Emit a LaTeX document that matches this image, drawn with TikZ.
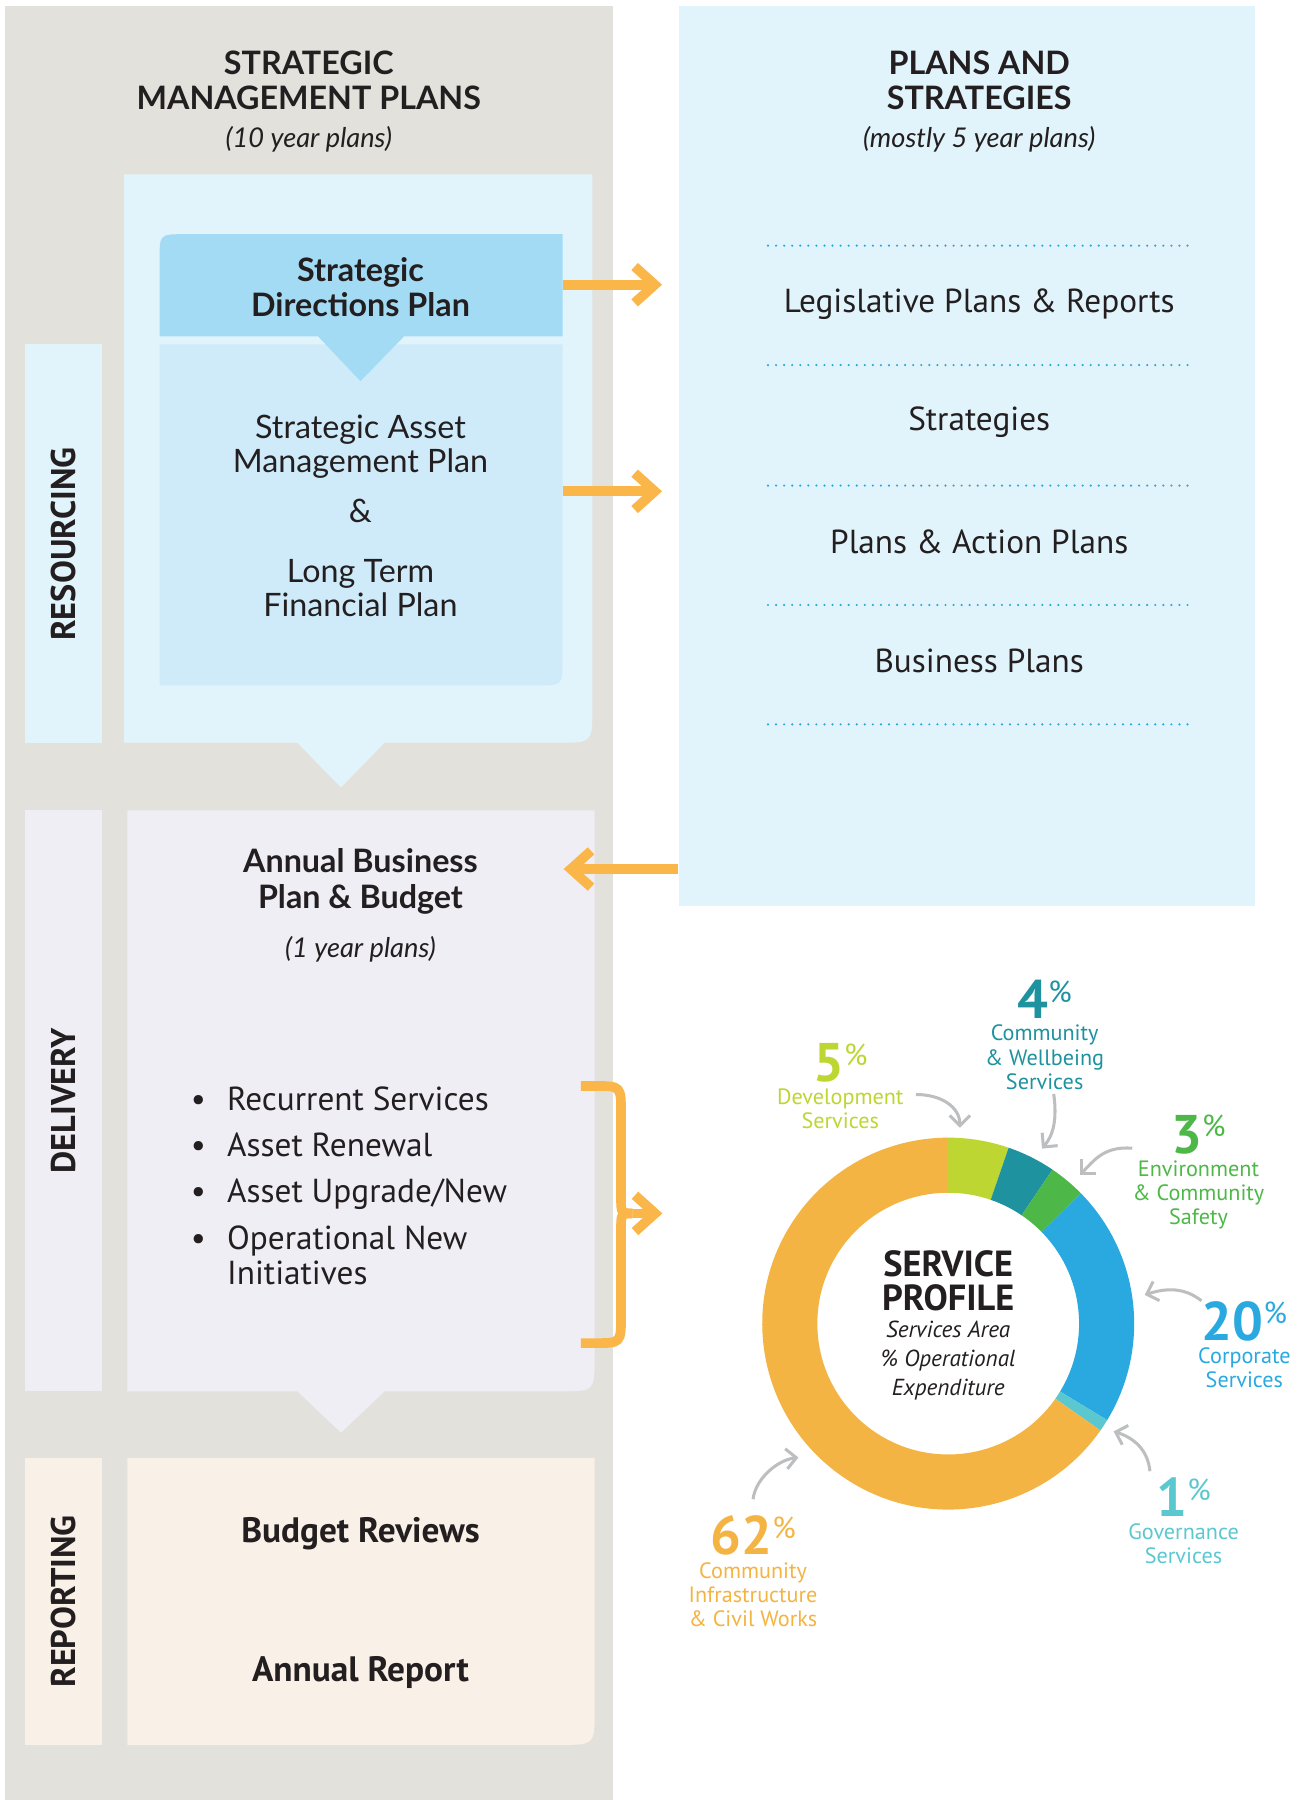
\documentclass[tikz,border=0pt]{standalone}
\usepackage{fontspec}
\setmainfont{PT Sans}
\newfontfamily\roundfont{Lato}
\usetikzlibrary{arrows.meta,positioning}

\definecolor{panelgrey}{HTML}{E2E1DB}
\definecolor{paleblue}{HTML}{E2F4FB}
\definecolor{sdpblue}{HTML}{A3DBF5}
\definecolor{midblue}{HTML}{CFEBF9}
\definecolor{palelilac}{HTML}{F0EEF5}
\definecolor{palecream}{HTML}{F9F0E7}
\definecolor{arroworange}{HTML}{FBB64A}
\definecolor{inkdark}{HTML}{231F20}
\definecolor{devgreen}{HTML}{BED632}
\definecolor{wellteal}{HTML}{1E929E}
\definecolor{envgreen}{HTML}{4DB848}
\definecolor{corpblue}{HTML}{29A9E0}
\definecolor{govcyan}{HTML}{5BC8D0}
\definecolor{infraorange}{HTML}{F4B443}
\definecolor{curvegrey}{HTML}{BCBEC0}

\tikzset{
  headtext/.style={align=center, text=inkdark, font=\roundfont\bfseries\fontsize{16}{17.6}\selectfont},
  yeartext/.style={align=center, text=inkdark, font=\roundfont\itshape\fontsize{13.5}{16}\selectfont},
  roundtext/.style={align=center, text=inkdark, font=\roundfont\fontsize{16}{17}\selectfont},
  plaintext/.style={align=center, text=inkdark, font=\fontsize{16.5}{17.6}\selectfont},
  sidetext/.style={rotate=90, text=inkdark, font=\bfseries\fontsize{17}{18}\selectfont},
  boldtext/.style={align=center, text=inkdark, font=\bfseries\fontsize{17.5}{18}\selectfont},
  flowarrow/.style={draw=arroworange, line width=4.8pt, -{Straight Barb[length=10pt,width=18pt]}},
  bracketline/.style={draw=arroworange, line width=4.8pt},
  dotline/.style={draw=corpblue, line width=1.2pt, line cap=round, dash pattern=on 0pt off 4pt},
  curvearrow/.style={draw=curvegrey, line width=1.5pt, -{Straight Barb[length=5pt,width=10pt]}},
  sharelabel/.style={align=center, font=\fontsize{11}{12}\selectfont, inner sep=0pt},
  sharenum/.style={font=\bfseries\fontsize{27}{27}\selectfont, inner sep=0pt},
}
\newcommand{\pctsign}{{\fontsize{15}{15}\selectfont\mdseries\raisebox{8pt}{\%}}}

\begin{document}
\begin{tikzpicture}[x=0.02cm, y=-0.02cm]
    \useasboundingbox (0,0) rectangle (1140,1568);
    \fill[white] (0,0) rectangle (1140,1568);
    \fill[panelgrey] (4,5) rectangle (534,1568);
    \node[fill=paleblue, minimum width=10.04cm, minimum height=15.68cm, inner sep=0pt] (plans) at (842,397) {};

    % resourcing
    \fill[paleblue] (22,300) rectangle (89,647);
    \fill[paleblue] (108,152) -- (516,152) -- (516,617) .. controls (516,647) .. (486,647)
        -- (335,647) -- (297,686) -- (259,647) -- (108,647) -- cycle;
    \fill[midblue] (139,300) -- (490,300) -- (490,575) .. controls (490,597) .. (468,597) -- (139,597) -- cycle;
    \fill[sdpblue] (139,293) -- (139,226) .. controls (139,204) .. (161,204) -- (490,204) -- (490,293)
        -- (352,293) -- (314,332) -- (277,293) -- cycle;

    % delivery
    \fill[palelilac] (22,706) rectangle (89,1212);
    \fill[palelilac] (111,706) -- (518,706) -- (518,1182) .. controls (518,1212) .. (488,1212)
        -- (335,1212) -- (297,1248) -- (259,1212) -- (111,1212) -- cycle;

    % reporting
    \fill[palecream] (22,1270) rectangle (89,1520);
    \fill[palecream] (111,1270) -- (518,1270) -- (518,1490) .. controls (518,1520) .. (488,1520) -- (111,1520) -- cycle;

    \node[headtext] (smp) at (269,70) {STRATEGIC\\MANAGEMENT PLANS};
    \node[yeartext] (smpyr) at (269,121) {(10 year plans)};
    \node[headtext] (pas) at (853,70) {PLANS AND\\STRATEGIES};
    \node[yeartext] (pasyr) at (853,121) {(mostly 5 year plans)};

    \node[sidetext] (res) at (55.5,474) {RESOURCING};
    \node[sidetext] (del) at (55.5,959) {DELIVERY};
    \node[sidetext] (rep) at (55.5,1395) {REPORTING};

    \node[headtext] (sdp) at (314,250) {Strategic\\Directions Plan};
    \node[roundtext] (samp) at (314,389) {Strategic Asset\\Management Plan};
    \node[roundtext, below of=samp, node distance=1.12cm] (amp) {\&};
    \node[roundtext, below of=amp, node distance=1.34cm] (ltfp) {Long Term\\Financial Plan};

    \node[headtext] (abp) at (314,768) {Annual Business\\Plan \& Budget};
    \node[yeartext, below of=abp, node distance=1.18cm] (abpyr) {(1 year plans)};
    \node[plaintext, anchor=north west, inner sep=0pt] (tasks) at (166,945) {%
      \begin{tabular}{@{}l@{\hspace{10.5pt}}l@{}}
        \textbullet & Recurrent Services\\[5.4pt]
        \textbullet & Asset Renewal\\[5.4pt]
        \textbullet & Asset Upgrade/New\\[5.4pt]
        \textbullet & Operational New\\
                    & Initiatives
      \end{tabular}};

    \node[boldtext] (brev) at (314,1336) {Budget Reviews};
    \node[boldtext, below of=brev, node distance=2.42cm] (arep) {Annual Report};

    \draw[dotline] (669,214) -- (1041,214);
    \draw[dotline] (669,318) -- (1041,318);
    \draw[dotline] (669,423) -- (1041,423);
    \draw[dotline] (669,527) -- (1041,527);
    \draw[dotline] (669,631) -- (1041,631);
    \node[plaintext] (legis) at (853,265) {Legislative Plans \& Reports};
    \node[plaintext, below of=legis, node distance=2.06cm] (strat) {Strategies};
    \node[plaintext, below of=strat, node distance=2.08cm] (actp) {Plans \& Action Plans};
    \node[plaintext, below of=actp, node distance=2.08cm] (bizp) {Business Plans};

    \coordinate (sdpR) at (490,248);
    \coordinate (lowR) at (490,428);
    \coordinate (abpR) at (491,757);
    \draw[flowarrow, shorten >=0.28cm] (sdpR) -- (sdpR -| plans.west);
    \draw[flowarrow, shorten >=0.28cm] (lowR) -- (lowR -| plans.west);
    \draw[flowarrow] (abpR -| plans.west) -- (abpR);

    \coordinate (brtop) at (506,946);
    \coordinate (brbot) at (506,1170);
    \coordinate (brmid) at (551,1057);
    \coordinate (brtip) at (577,1057);
    \draw[bracketline] (brtop) -- (518,946) .. controls (541,946) .. (541,970) -- (541,1043) .. controls (541,1057) .. (brmid);
    \draw[bracketline] (brbot) -- (518,1170) .. controls (541,1170) .. (541,1146) -- (541,1071) .. controls (541,1057) .. (brmid);
    \draw[flowarrow] (brmid) -- (brtip);

    % service profile
    \begin{scope}[shift={(826,1153)}, x=0.02cm, y=0.02cm]
      \foreach \from/\to/\col in {90/71.05/devgreen, 71.05/55.89/wellteal, 55.89/44.53/envgreen,
          44.53/-31.26/corpblue, -31.26/-35.05/govcyan, -35.05/-270/infraorange}
        \fill[\col] (\from:162) arc[start angle=\from, end angle=\to, radius=162]
          -- (\to:114) arc[start angle=\to, end angle=\from, radius=114] -- cycle;
      \coordinate (devpt) at (86.6:171);
      \coordinate (wellpt) at (61.8:173);
      \coordinate (envpt) at (48.5:173);
      \coordinate (corppt) at (8.3:173);
      \coordinate (govpt) at (-33.1:172);
      \coordinate (infrapt) at (221.8:175);
    \end{scope}
    \node[align=center, text=inkdark, font=\bfseries\fontsize{18}{17}\selectfont] (svc) at (826,1116) {SERVICE\\PROFILE};
    \node[align=center, text=inkdark, font=\itshape\fontsize{11.5}{14.5}\selectfont] (svcsub) at (826,1185) {Services Area\\\% Operational\\Expenditure};

    \node[sharelabel, text=devgreen] (devlbl) at (732,966) {Development\\Services};
    \node[sharenum, text=devgreen, above=3pt of devlbl] (devnum) {5\pctsign};
    \node[sharelabel, text=wellteal] (welllbl) at (910,921) {Community\\\& Wellbeing\\Services};
    \node[sharenum, text=wellteal, above=3pt of welllbl] (wellnum) {4\pctsign};
    \node[sharelabel, text=envgreen] (envlbl) at (1044,1041) {Environment\\\& Community\\Safety};
    \node[sharenum, text=envgreen, above=3pt of envlbl] (envnum) {3\pctsign};
    \node[sharelabel, text=corpblue] (corplbl) at (1084,1191.5) {Corporate\\Services};
    \node[sharenum, text=corpblue, above=3pt of corplbl] (corpnum) {20\pctsign};
    \node[sharelabel, text=govcyan] (govlbl) at (1031,1344.5) {Governance\\Services};
    \node[sharenum, text=govcyan, above=3pt of govlbl] (govnum) {1\pctsign};
    \node[sharelabel, text=infraorange] (infralbl) at (656,1389) {Community\\Infrastructure\\\& Civil Works};
    \node[sharenum, text=infraorange, above=3pt of infralbl] (infranum) {62\pctsign};

    \draw[curvearrow] ([xshift=6pt,yshift=-3pt]devlbl.north east) .. controls +(22,0) and +(0,-18) .. (devpt);
    \draw[curvearrow] ([xshift=4.5pt,yshift=-2pt]welllbl.south) .. controls +(3,22) and +(10,-12) .. (wellpt);
    \draw[curvearrow] ([yshift=6pt]envlbl.north west) .. controls +(-25,-2) and +(12,-12) .. (envpt);
    \draw[curvearrow] (corpnum.north west) .. controls +(-15,-12) and +(18,-6) .. (corppt);
    \draw[curvearrow] ([xshift=-3pt,yshift=3pt]govnum.north west) .. controls +(-2,-20) and +(16,5) .. (govpt);
    \draw[curvearrow] ([yshift=8pt]infranum.north) .. controls +(2,-18) and +(-18,2) .. (infrapt);
\end{tikzpicture}
\end{document}
